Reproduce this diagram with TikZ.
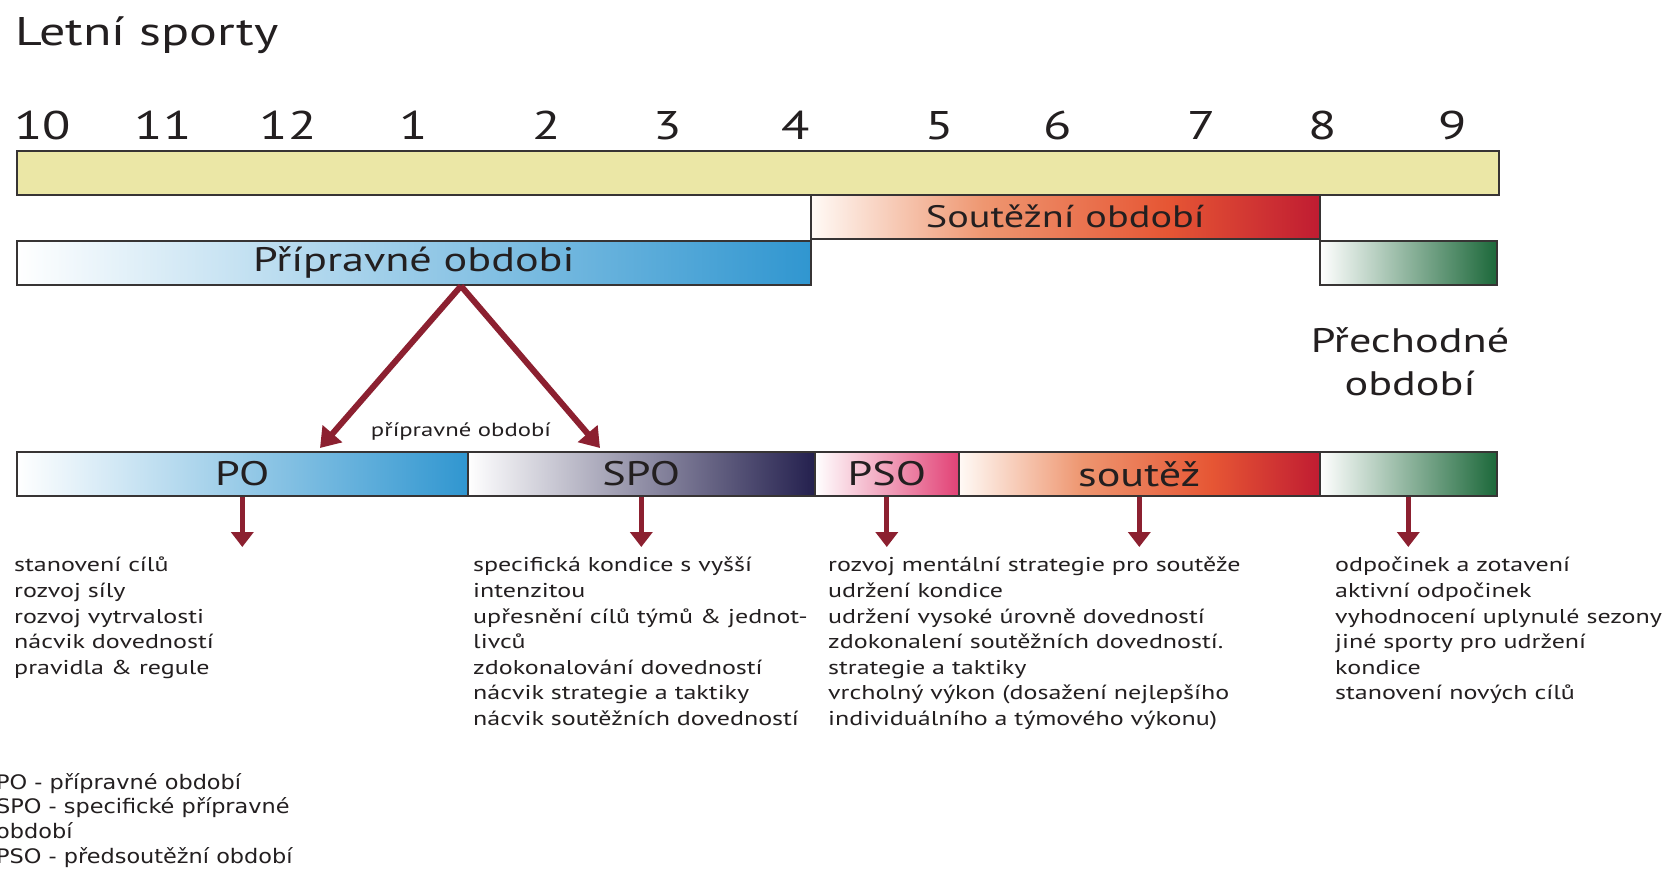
\documentclass[tikz,border=0pt]{standalone}
\usepackage{fontspec}
\setmainfont{PT Sans}[FakeStretch=1.3]
\newfontfamily\legendfont{DejaVu Sans}[FakeStretch=1.12]
\usetikzlibrary{arrows.meta}

\definecolor{barline}{RGB}{55,52,52}
\definecolor{yellowbar}{RGB}{235,231,166}
\definecolor{blueend}{RGB}{48,150,208}
\definecolor{greenend}{RGB}{28,104,58}
\definecolor{navyend}{RGB}{36,32,78}
\definecolor{pinkend}{RGB}{226,66,118}
\definecolor{arrowred}{RGB}{140,32,48}
\definecolor{inktext}{RGB}{35,31,32}
\definecolor{souteza}{RGB}{255,250,246}
\definecolor{soutezb}{RGB}{238,150,112}
\definecolor{soutezc}{RGB}{230,86,52}
\definecolor{soutezd}{RGB}{192,28,50}

\pgfdeclarehorizontalshading{soutez}{100bp}{color(0bp)=(souteza); color(25bp)=(souteza);
  color(42bp)=(soutezb); color(60bp)=(soutezc); color(75bp)=(soutezd); color(100bp)=(soutezd)}

\begin{document}
\begin{tikzpicture}[x=1pt,y=-1pt]
\tikzset{bar/.style={draw=barline, line width=1.6pt, rectangle, inner sep=0pt, anchor=north west, minimum height=44pt, text=inktext, font=\fontsize{34}{38}\selectfont},
  month/.style={anchor=base, text=inktext, font=\fontsize{40}{44}\selectfont},
  arr/.style={draw=arrowred, line width=6pt, -{Triangle[width=25pt,length=19pt]}},
  darr/.style={draw=arrowred, line width=5pt, -{Triangle[width=22pt,length=15pt]}},
  info/.style={anchor=north west, align=left, inner sep=0pt, text=inktext, font=\fontsize{20}{25.6}\selectfont}}
\useasboundingbox (0,0) rectangle (1675,868);
\fill[white] (0,0) rectangle (1675,868);
% title
\node[anchor=base west, inner sep=0pt, text=inktext, font=\fontsize{40}{44}\selectfont] (title) at (15,45) {Letní sporty};
% months
\node[month] (m10) at (43,139) {10};
\node[month] (m11) at (163,139) {11};
\node[month] (m12) at (288,139) {12};
\node[month] (m1) at (414,139) {1};
\node[month] (m2) at (547,139) {2};
\node[month] (m3) at (668,139) {3};
\node[month] (m4) at (796,139) {4};
\node[month] (m5) at (940,139) {5};
\node[month] (m6) at (1058,139) {6};
\node[month] (m7) at (1202,139) {7};
\node[month] (m8) at (1323,139) {8};
\node[month] (m9) at (1453,139) {9};
% upper bars
\node[bar, fill=yellowbar, minimum width=1482pt] (year) at (16,150) {};
\node[bar, shading=soutez, minimum width=509pt, font=\fontsize{31}{34}\selectfont] (sout) at (810,194) {Soutěžní období};
\node[bar, left color=white, right color=blueend, minimum width=794pt] (prip) at (16,240) {Přípravné obdobi};
\node[bar, left color=white, right color=greenend, minimum width=177pt] (prech) at (1319,240) {};
\node[align=center, inner sep=0pt, text=inktext, font=\fontsize{34}{43}\selectfont] (prechtxt) at (1410,362) {Přechodné\\období};
% lower bar
\node[bar, left color=white, right color=blueend, minimum width=451pt] (po) at (16,451) {PO};
\node[bar, left color=white, right color=navyend, minimum width=347pt] (spo) at (467,451) {SPO};
\node[bar, left color=white, right color=pinkend, minimum width=144pt] (pso) at (814,451) {PSO};
\node[bar, shading=soutez, minimum width=361pt] (soutez) at (958,451) {soutěž};
\node[bar, left color=white, right color=greenend, minimum width=177pt] (prech2) at (1319,451) {};
% arrows to PO and SPO
\coordinate (apex) at (461,286);
\coordinate (poTip) at (320,448);
\coordinate (spoTip) at (600,448);
\draw[arr] (apex) -- (poTip);
\draw[arr] (apex) -- (spoTip);
\node[text=inktext, font=\fontsize{19}{20}\selectfont] (priplbl) at (461,431) {přípravné období};
% descriptions
\node[info] (txt1) at (14,557) {stanovení cílů\\rozvoj síly\\rozvoj vytrvalosti\\nácvik dovedností\\pravidla \& regule};
\node[info] (txt2) at (473,557) {specifická kondice s vyšší\\intenzitou\\upřesnění cílů týmů \& jednot-\\livců\\zdokonalování dovedností\\nácvik strategie a taktiky\\nácvik soutěžních dovedností};
\node[info] (txt3) at (828,557) {rozvoj mentální strategie pro soutěže\\udržení kondice\\udržení vysoké úrovně dovedností\\zdokonalení soutěžních dovedností.\\strategie a taktiky\\vrcholný výkon (dosažení nejlepšího\\individuálního a týmového výkonu)};
\node[info] (txt4) at (1335,557) {odpočinek a zotavení\\aktivní odpočinek\\vyhodnocení uplynulé sezony\\jiné sporty pro udržení\\kondice\\stanovení nových cílů};
\coordinate (tips) at (0,547);
\draw[darr] (po.south) -- (po.south |- tips);
\draw[darr] (spo.south) -- (spo.south |- tips);
\draw[darr] (pso.south) -- (pso.south |- tips);
\draw[darr] (soutez.south) -- (soutez.south |- tips);
\draw[darr] (prech2.south) -- (prech2.south |- tips);
% legend
\node[info, font=\legendfont\fontsize{20}{24.7}\selectfont] (legend) at (-4,773) {PO - přípravné období\\SPO - specifické přípravné\\období\\PSO - předsoutěžní období};
\end{tikzpicture}
\end{document}
